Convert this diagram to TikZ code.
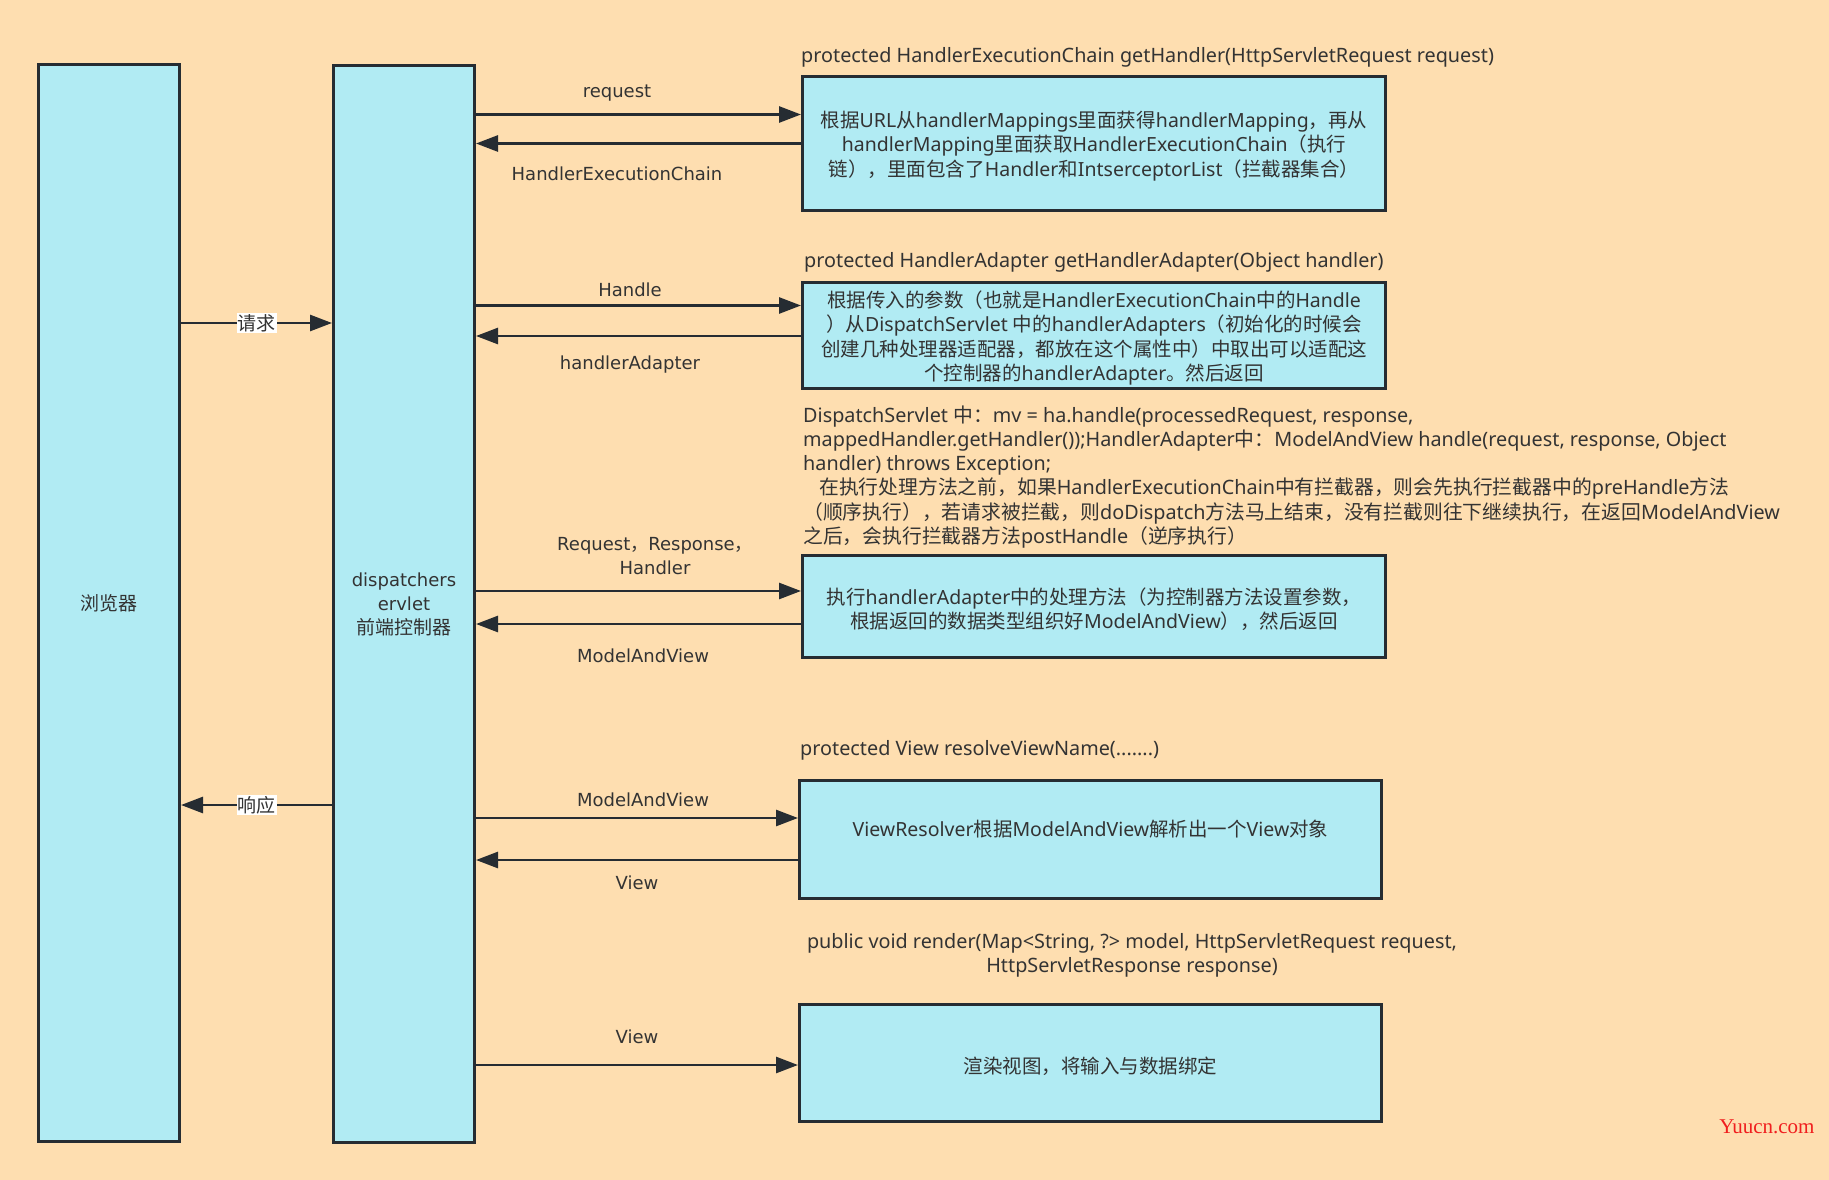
\documentclass[tikz,border=0pt]{standalone}
\usepackage{fontspec}
\setmainfont{Noto Sans}
\newfontfamily\cjkfont{Noto Sans CJK SC}
\newfontfamily\dvfont{DejaVu Sans}
\newfontfamily\wmfont{Liberation Serif}
\usetikzlibrary{arrows.meta}
% automatic switch to the CJK font for CJK characters
\XeTeXinterchartokenstate=1
\newXeTeXintercharclass\cjkcls
\newcount\cjkcnt
\def\setcjkrange#1#2{\cjkcnt=#1\relax\loop\XeTeXcharclass\cjkcnt=\cjkcls\advance\cjkcnt by 1\relax\ifnum\cjkcnt<#2\relax\repeat}
\setcjkrange{"3000}{"3040}
\setcjkrange{"4E00}{"A000}
\setcjkrange{"FF00}{"FFF0}
\XeTeXinterchartoks 0 \cjkcls = {\begingroup\cjkfont}
\XeTeXinterchartoks 4095 \cjkcls = {\begingroup\cjkfont}
\XeTeXinterchartoks \cjkcls 0 = {\endgroup}
\XeTeXinterchartoks \cjkcls 4095 = {\endgroup}

\definecolor{bg}{RGB}{254,222,176}
\definecolor{boxfill}{RGB}{177,235,243}
\definecolor{edge}{RGB}{38,44,50}
\definecolor{txt}{RGB}{51,51,51}
\definecolor{wm}{RGB}{240,30,30}

\tikzset{
  lane/.style={draw=edge, line width=3pt, fill=boxfill, inner sep=0pt, text=txt},
  infobox/.style={draw=edge, line width=3pt, fill=boxfill, inner sep=0pt},
  boxtext/.style={text=txt, font=\fontsize{19.5}{24.2}\selectfont, align=center, inner sep=0pt},
  arr/.style={draw=edge, line width=2.7pt, -{Triangle[length=22pt,width=16pt]}},
  lbl/.style={text=txt, font=\dvfont\fontsize{18}{24}\selectfont, inner sep=0pt, align=center},
  ttl/.style={text=txt, font=\fontsize{19.8}{24.2}\selectfont, inner sep=0pt},
  tag/.style={text=txt, fill=white, font=\fontsize{19}{22}\selectfont, inner sep=1pt}
}

\begin{document}
\begin{tikzpicture}[x=1pt,y=-1pt]
\fill[bg] (0,0) rectangle (1829,1180);
\useasboundingbox (0,0) rectangle (1829,1180);

% lanes
\node[lane, minimum width=141pt, minimum height=1077pt, font=\fontsize{19}{24}\selectfont] (browser) at (109,603) {浏览器};
\node[lane, minimum width=141pt, minimum height=1077pt, align=center, font=\dvfont\fontsize{18}{24}\selectfont] (disp) at (404,604) {dispatchers\\ervlet\\{\fontsize{19}{24}\selectfont 前端控制器}};

% right boxes
\node[infobox, minimum width=583pt, minimum height=134pt] (b1) at (1094,143.5) {};
\node[boxtext] (b1t) at (1094,146) {根据URL从handlerMappings里面获得handlerMapping，再从\\handlerMapping里面获取HandlerExecutionChain（执行\\链），里面包含了Handler和IntserceptorList（拦截器集合）};
\node[infobox, minimum width=583pt, minimum height=106pt] (b2) at (1094,335.5) {};
\node[boxtext] (b2t) at (1094,338) {根据传入的参数（也就是HandlerExecutionChain中的Handle\\）从DispatchServlet 中的handlerAdapters（初始化的时候会\\创建几种处理器适配器，都放在这个属性中）中取出可以适配这\\个控制器的handlerAdapter。然后返回};
\node[infobox, minimum width=583pt, minimum height=102pt] (b3) at (1094,606.5) {};
\node[boxtext] (b3t) at (1094,609) {执行handlerAdapter中的处理方法（为控制器方法设置参数，\\根据返回的数据类型组织好ModelAndView），然后返回};
\node[infobox, minimum width=582pt, minimum height=118pt] (b4) at (1090.5,839.5) {};
\node[boxtext] (b4t) at (1090.5,829) {ViewResolver根据ModelAndView解析出一个View对象};
\node[infobox, minimum width=582pt, minimum height=117pt] (b5) at (1090.5,1063) {};
\node[boxtext] (b5t) at (1090.5,1066) {渲染视图，将输入与数据绑定};

% titles
\node[ttl, anchor=west] (t1) at (801,57.5) {protected HandlerExecutionChain getHandler(HttpServletRequest request)};
\node[ttl, anchor=west] (t2) at (804,262.5) {protected HandlerAdapter getHandlerAdapter(Object handler)};
\node[ttl, anchor=north west, align=left] (t3) at (803,405.5) {DispatchServlet 中：mv = ha.handle(processedRequest, response,\\mappedHandler.getHandler());HandlerAdapter中：ModelAndView handle(request, response, Object\\handler) throws Exception;\\\hspace*{16pt}在执行处理方法之前，如果HandlerExecutionChain中有拦截器，则会先执行拦截器中的preHandle方法\\（顺序执行），若请求被拦截，则doDispatch方法马上结束，没有拦截则往下继续执行，在返回ModelAndView\\之后，会执行拦截器方法postHandle（逆序执行）};
\node[ttl, anchor=west] (t4) at (800,750) {protected View resolveViewName(.......)};
\node[ttl, align=center] (t5) at (1132,955.5) {public void render(Map<String, ?> model, HttpServletRequest request,\\HttpServletResponse response)};

% browser <-> dispatcher
\draw[arr] (browser.east |- 0,323) -- (disp.west |- 0,323) node[tag, midway] (lq) {请求};
\draw[arr] (disp.west |- 0,805) -- (browser.east |- 0,805) node[tag, midway] (lr) {响应};

% dispatcher <-> boxes
\draw[arr] (disp.east |- 0,114.5) -- (b1.west |- 0,114.5);
\draw[arr] (b1.west |- 0,143.5) -- (disp.east |- 0,143.5);
\draw[arr] (disp.east |- 0,305.5) -- (b2.west |- 0,305.5);
\draw[arr] (b2.west |- 0,336) -- (disp.east |- 0,336);
\draw[arr] (disp.east |- 0,591) -- (b3.west |- 0,591);
\draw[arr] (b3.west |- 0,624) -- (disp.east |- 0,624);
\draw[arr] (disp.east |- 0,818) -- (b4.west |- 0,818);
\draw[arr] (b4.west |- 0,860) -- (disp.east |- 0,860);
\draw[arr] (disp.east |- 0,1065) -- (b5.west |- 0,1065);

% arrow labels
\node[lbl] (l1) at (617,93) {request};
\node[lbl] (l2) at (617,174) {HandlerExecutionChain};
\node[lbl] (l3) at (630,289.5) {Handle};
\node[lbl] (l4) at (630,365) {handlerAdapter};
\node[lbl] (l5) at (655,556) {Request，Response，\\Handler};
\node[lbl] (l6) at (643,656) {ModelAndView};
\node[lbl] (l7) at (643,799.5) {ModelAndView};
\node[lbl] (l8) at (637,882.5) {View};
\node[lbl] (l9) at (637,1036.5) {View};

% watermark
\node[text=wm, font=\wmfont\fontsize{21}{24}\selectfont, inner sep=0pt] (wmk) at (1767,1127) {Yuucn.com};
\end{tikzpicture}
\end{document}
